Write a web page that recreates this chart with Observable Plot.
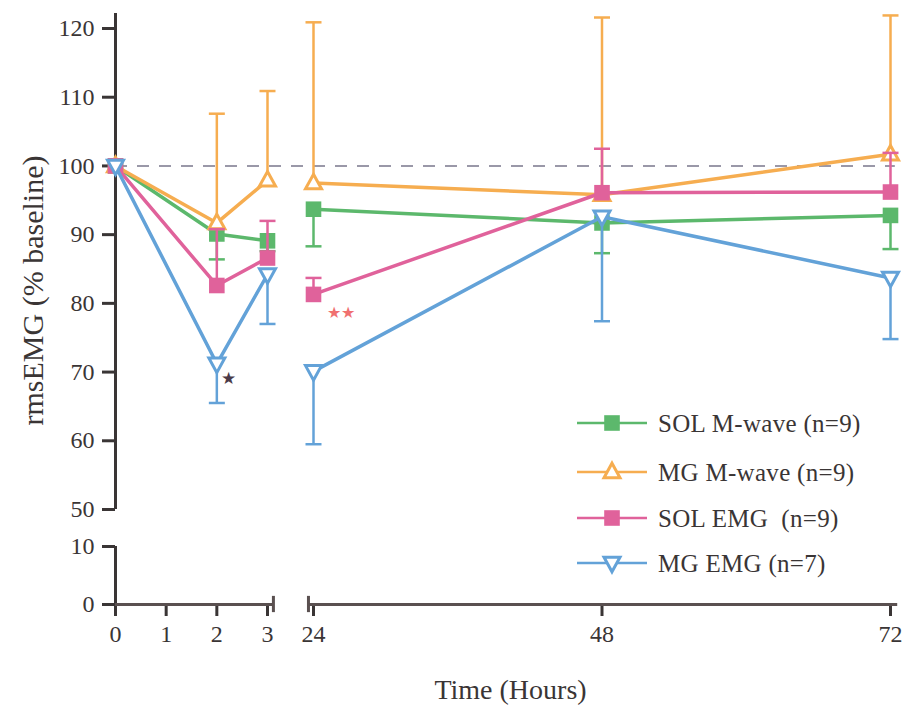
<!DOCTYPE html>
<html>
<head>
<meta charset="utf-8">
<script src="https://cdn.jsdelivr.net/npm/d3@7"></script>
<script src="https://cdn.jsdelivr.net/npm/@observablehq/plot@0.6"></script>
<style>
  body { margin: 0; background: #ffffff; }
  #chart { position: relative; width: 904px; height: 705px; }
  #chart svg, #chart svg text { font-family: "Liberation Serif", "Times New Roman", serif; }
  #chart svg text.star { font-family: "DejaVu Sans", sans-serif; }
  #chart svg [aria-label^="x-axis"] line, #chart svg [aria-label^="x-axis"] path,
  #chart svg [aria-label^="y-axis"] line, #chart svg [aria-label^="y-axis"] path { stroke-width: 3px; }
</style>
</head>
<body>
<div id="chart"></div>
<script>
// ---- data ----
const hours = [0, 2, 3, 24, 48, 72];
const xTicks = [0, 1, 2, 3, 24, 48, 72];
const yTicks = [0, 10, 50, 60, 70, 80, 90, 100, 110, 120];

const seriesNames = ["SOL M-wave (n=9)", "MG M-wave (n=9)", "SOL EMG  (n=9)", "MG EMG (n=7)"];
const seriesColors = ["#5cb86c", "#f6ad50", "#e0629b", "#63a2d8"];

const solMwave = [100, 90.1, 89.1, 93.7, 91.7, 92.8];
const solMwaveErr = [null, 86.4, 87.6, 88.3, 87.3, 87.9];   // lower bars
const mgMwave = [100, 91.7, 97.9, 97.5, 95.8, 101.7];
const mgMwaveErr = [null, 107.6, 110.9, 120.9, 121.6, 121.9]; // upper bars
const solEmg = [100, 82.6, 86.6, 81.3, 96.1, 96.2];
const solEmgErr = [null, 90.8, 92.0, 83.7, 102.5, 101.9];    // upper bars
const mgEmg = [100, 71.2, 84.2, 70.1, 92.6, 83.7];
const mgEmgErr = [null, 65.5, 77.0, 59.5, 77.4, 74.8];       // lower bars

const starHours = [2, 24];
const starValues = [69.1, 78.6];
const starLabels = ["★", "★★"];
const starColors = ["#4a3a48", "#f07070"];

const axisBreakHours = [5.7, 21.7];

// ---- symbols ----
const rad = s => Math.sqrt(s / Math.PI);
const capSym = {draw(ctx, s) { const r = rad(s); ctx.moveTo(-r, 0); ctx.lineTo(r, 0); }};
const squareSym = {draw(ctx, s) { const r = rad(s); ctx.rect(-r, -r, 2 * r, 2 * r); }};
const triUpSym = {draw(ctx, s) { const r = rad(s); ctx.moveTo(0, -1.1 * r); ctx.lineTo(r, 0.72 * r); ctx.lineTo(-r, 0.72 * r); ctx.closePath(); }};
const triDownSym = {draw(ctx, s) { const r = rad(s); ctx.moveTo(0, 1.1 * r); ctx.lineTo(r, -0.72 * r); ctx.lineTo(-r, -0.72 * r); ctx.closePath(); }};

const series = [
  {name: seriesNames[0], color: seriesColors[0], values: solMwave, err: solMwaveErr, sym: squareSym, r: 7.8, filled: true},
  {name: seriesNames[1], color: seriesColors[1], values: mgMwave, err: mgMwaveErr, sym: triUpSym, r: 8, filled: false},
  {name: seriesNames[2], color: seriesColors[2], values: solEmg, err: solEmgErr, sym: squareSym, r: 7.8, filled: true},
  {name: seriesNames[3], color: seriesColors[3], values: mgEmg, err: mgEmgErr, sym: triDownSym, r: 8, filled: false}
];

const font = "Liberation Serif, Times New Roman, serif";
const textColor = "#3a3535";

const marks = [];
// dashed baseline
marks.push(Plot.ruleY([100], {x1: 0, x2: 72.4, stroke: "#9a98a8", strokeWidth: 2, strokeDasharray: "12,10"}));
// broken axis lines
marks.push(Plot.ruleX([0], {y1: 0, y2: 10, stroke: textColor, strokeWidth: 3}));
marks.push(Plot.ruleX([0], {y1: 50, y2: 122.2, stroke: textColor, strokeWidth: 3}));
marks.push(Plot.ruleY([0], {x1: 0, x2: axisBreakHours[0], stroke: "#5a5050", strokeWidth: 3}));
marks.push(Plot.ruleY([0], {x1: axisBreakHours[1], x2: 72.6, stroke: "#5a5050", strokeWidth: 3}));
marks.push(Plot.ruleX(axisBreakHours, {y1: -1.4, y2: 1.4, stroke: "#5a5050", strokeWidth: 3}));

for (const s of series) {
  const rows = hours.map((t, i) => ({t, v: s.values[i], err: s.err[i], seg: t <= 3 ? 0 : 1}));
  const errRows = rows.filter(d => d.err != null);
  marks.push(Plot.line(rows, {x: "t", y: "v", z: "seg", stroke: s.color, strokeWidth: 3.5}));
  marks.push(Plot.ruleX(errRows, {x: "t", y1: "v", y2: "err", stroke: s.color, strokeWidth: 2.5}));
  marks.push(Plot.dot(errRows, {x: "t", y: "err", symbol: capSym, r: 8, stroke: s.color, strokeWidth: 2.5, fill: "none"}));
  marks.push(Plot.dot(rows, {x: "t", y: "v", symbol: s.sym, r: s.r,
    fill: s.filled ? s.color : "white", stroke: s.color, strokeWidth: s.filled ? 0 : 3}));
}

// significance stars
const starRows = starHours.map((t, i) => ({t, v: starValues[i], label: starLabels[i], color: starColors[i]}));
marks.push(Plot.text([starRows[0]], {x: "t", y: "v", text: "label", fill: "color", dx: 4, textAnchor: "start", fontSize: 17, className: "star"}));
marks.push(Plot.text([starRows[1]], {x: "t", y: "v", text: "label", fill: "color", dx: 13, textAnchor: "start", fontSize: 16, className: "star"}));

// axis titles
marks.push(Plot.text(["rmsEMG (% baseline)"], {text: d => d, frameAnchor: "top-left", dx: 33 - 115, dy: 290, rotate: -90,
  textAnchor: "middle", lineAnchor: "middle", fontSize: 30, fill: textColor, letterSpacing: "3px"}));
marks.push(Plot.text(["Time (Hours)"], {text: d => d, frameAnchor: "top-left", dx: 510 - 115, dy: 690,
  textAnchor: "middle", lineAnchor: "middle", fontSize: 28, fill: textColor, letterSpacing: "2.8px"}));

const chart = Plot.plot({
  width: 904,
  height: 705,
  marginLeft: 115,
  marginRight: 14,
  marginTop: 0,
  marginBottom: 101,
  style: {fontFamily: font, fontSize: "24px", color: textColor, background: "transparent", overflow: "visible"},
  x: {type: "linear", domain: [0, 3, 24, 72], range: [115, 267, 313, 890], ticks: xTicks, tickSize: 12, tickPadding: 8, tickFormat: d => String(d), label: null},
  y: {type: "linear", domain: [0, 10, 50, 120], range: [604, 546, 509, 28], ticks: yTicks, tickSize: 13, tickPadding: 8, tickFormat: d => String(d), label: null},
  marks
});

document.getElementById("chart").appendChild(chart);

// ---- legend (inside the plot area, bottom right) ----
const svg = d3.select(chart.tagName.toLowerCase() === "svg" ? chart : chart.querySelector("svg"));
const legendY = [423, 472, 518, 563];
const lg = svg.append("g").attr("class", "legend").attr("text-anchor", "start");
series.forEach((s, i) => {
  const y = legendY[i];
  const g = lg.append("g").attr("transform", `translate(0,${y})`);
  g.append("line").attr("x1", 577).attr("x2", 647).attr("y1", 0).attr("y2", 0)
    .attr("stroke", s.color).attr("stroke-width", 2.5);
  g.append("path").attr("transform", "translate(612,0)")
    .attr("d", d3.symbol(s.sym, Math.PI * s.r * s.r)())
    .attr("fill", s.filled ? s.color : "white")
    .attr("stroke", s.filled ? "none" : s.color).attr("stroke-width", 3);
  g.append("text").attr("x", 658).attr("y", 0).attr("dy", "0.35em")
    .attr("text-anchor", "start")
    .attr("font-size", 25).attr("fill", textColor)
    .attr("letter-spacing", "0.3px").style("white-space", "pre")
    .text(s.name);
});
</script>
</body>
</html>
